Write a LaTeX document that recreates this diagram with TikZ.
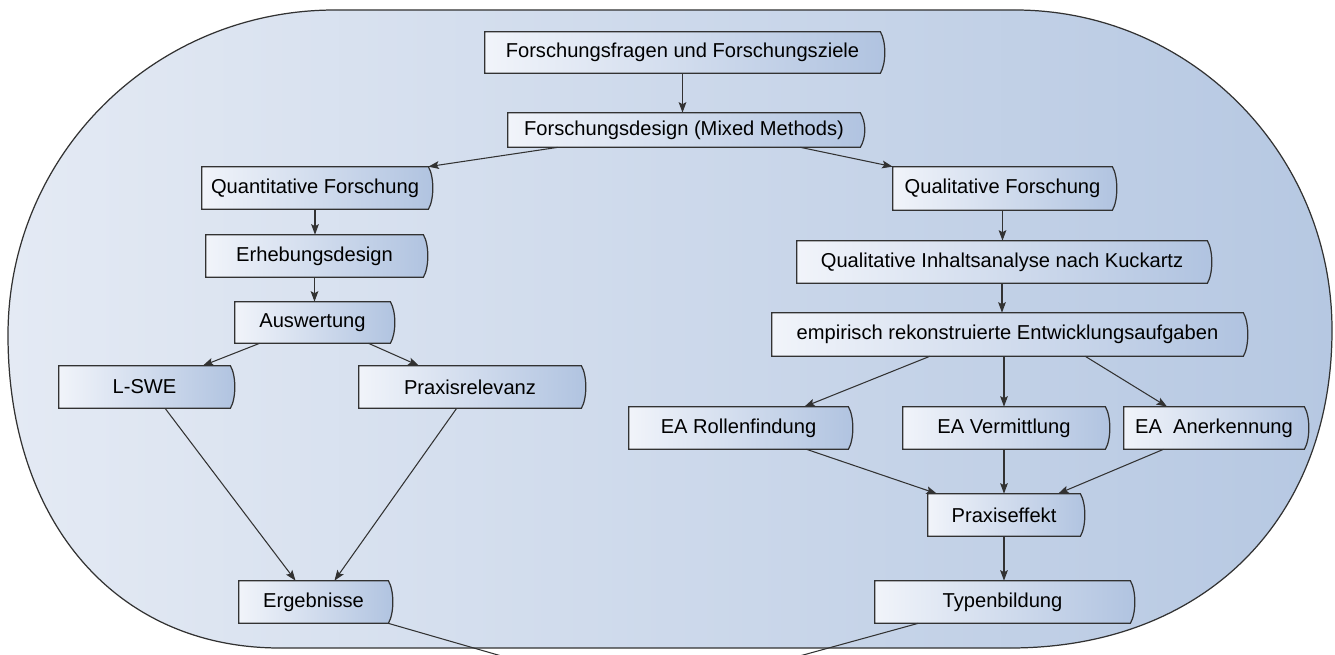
\documentclass[tikz,border=0pt]{standalone}
\usepackage{fontspec}
\setmainfont{Liberation Sans}
\usetikzlibrary{arrows.meta,calc,backgrounds}
\definecolor{fieldlight}{RGB}{228,234,244}
\definecolor{fielddark}{RGB}{182,200,226}
\definecolor{boxlight}{RGB}{241,244,250}
\definecolor{boxdark}{RGB}{176,195,224}
\definecolor{edge}{RGB}{50,50,50}
\begin{document}
\begin{tikzpicture}[x=0.02cm,y=-0.02cm,
  stage/.style={inner sep=0pt, font=\fontsize{11.45}{13}\selectfont, text=black},
  stageshape/.style={draw=edge, line width=0.7pt, left color=boxlight, right color=boxdark},
  link/.style={draw=edge, line width=0.6pt, -{Stealth[length=6pt,width=4.4pt,inset=1.2pt]}},
  plainlink/.style={draw=edge, line width=0.6pt}
]
\useasboundingbox (0,0) rectangle (1335,655);

% process steps
\node[stage, minimum width=7.90cm, minimum height=0.82cm] (fragen)  at (682.5,52.5) {Forschungsfragen und Forschungsziele};
\node[stage, minimum width=7.04cm, minimum height=0.68cm] (design)  at (684,130)    {Forschungsdesign (Mixed Methods)};
\node[stage, minimum width=4.52cm, minimum height=0.84cm] (quan)    at (315,188)    {Quantitative Forschung};
\node[stage, minimum width=4.34cm, minimum height=0.84cm] (erheb)   at (314.5,256)  {Erhebungsdesign};
\node[stage, minimum width=3.10cm, minimum height=0.82cm] (ausw)    at (312.5,322.5){Auswertung};
\node[stage, minimum width=3.42cm, minimum height=0.84cm] (lswe)    at (144.5,387)  {L-SWE};
\node[stage, minimum width=4.44cm, minimum height=0.84cm] (praxrel) at (470,387)    {Praxisrelevanz};
\node[stage, minimum width=2.98cm, minimum height=0.84cm] (ergeb)   at (313.5,602)  {Ergebnisse};
\node[stage, minimum width=4.38cm, minimum height=0.86cm] (qual)    at (1002.5,188.5){Qualitative Forschung};
\node[stage, minimum width=8.20cm, minimum height=0.84cm] (inhalt)  at (1002,262)   {Qualitative Inhaltsanalyse nach Kuckartz};
\node[stage, minimum width=9.42cm, minimum height=0.86cm] (empir)   at (1007.5,334.5){empirisch rekonstruierte Entwicklungsaufgaben};
\node[stage, minimum width=4.38cm, minimum height=0.84cm] (rollen)  at (738.5,428)  {EA Rollenfindung};
\node[stage, minimum width=4.04cm, minimum height=0.84cm] (vermitt) at (1004,428)   {EA Vermittlung};
\node[stage, minimum width=3.60cm, minimum height=0.84cm] (anerk)   at (1214,428)   {EA\ \ Anerkennung};
\node[stage, minimum width=3.04cm, minimum height=0.84cm] (praxeff) at (1004,515)   {Praxiseffekt};
\node[stage, minimum width=5.10cm, minimum height=0.84cm] (typen)   at (1002.5,602) {Typenbildung};

% rounded field and step outlines behind the texts
\begin{scope}[on background layer]
  \path[draw=edge, line width=0.7pt, left color=fieldlight, right color=fielddark]
    (1015,10) -- (335,10)
    .. controls (154,10) and (8,155) .. (8,335)
    .. controls (8,523) and (117,648) .. (280,648)
    -- (1010,648)
    .. controls (1203,648) and (1332,521) .. (1332,330)
    .. controls (1332,153) and (1190,10) .. (1015,10) -- cycle;
  \foreach \n in {fragen,design,quan,erheb,ausw,lswe,praxrel,ergeb,qual,inhalt,empir,rollen,vermitt,anerk,praxeff,typen}
    \path[stageshape] (\n.north west) -- (\n.north east)
      .. controls +(6,10) and +(6,-10) .. (\n.south east)
      -- (\n.south west) -- cycle;
\end{scope}

% connectors
\draw[link] (fragen.south) -- (fragen.south |- design.north);
\draw[link] ($(design.south west)!0.142!(design.south east)$) -- (quan.north east);
\draw[link] ($(design.south west)!0.83!(design.south east)$) -- (qual.north west);

\draw[link] (quan.south) -- (quan.south |- erheb.north);
\draw[link] (erheb.south) -- (erheb.south |- ausw.north);
\draw[link] ($(ausw.south west)!0.16!(ausw.south east)$) -- ($(lswe.north west)!0.84!(lswe.north east)$);
\draw[link] ($(ausw.south west)!0.86!(ausw.south east)$) -- ($(praxrel.north west)!0.27!(praxrel.north east)$);
\draw[link] ($(lswe.south west)!0.62!(lswe.south east)$) -- ($(ergeb.north west)!0.38!(ergeb.north east)$);
\draw[link] ($(praxrel.south west)!0.44!(praxrel.south east)$) -- ($(ergeb.north west)!0.64!(ergeb.north east)$);

\draw[link] (qual.south) -- (qual.south |- inhalt.north);
\draw[link] (inhalt.south) -- (inhalt.south |- empir.north);
\draw[link] ($(empir.south west)!0.335!(empir.south east)$) -- ($(rollen.north west)!0.80!(rollen.north east)$);
\draw[link] (vermitt.north |- empir.south) -- (vermitt.north);
\draw[link] ($(empir.south west)!0.665!(empir.south east)$) -- ($(anerk.north west)!0.24!(anerk.north east)$);
\draw[link] ($(rollen.south west)!0.81!(rollen.south east)$) -- ($(praxeff.north west)!0.06!(praxeff.north east)$);
\draw[link] (vermitt.south) -- (vermitt.south |- praxeff.north);
\draw[link] ($(anerk.south west)!0.22!(anerk.south east)$) -- ($(praxeff.north west)!0.855!(praxeff.north east)$);
\draw[link] (praxeff.south) -- (praxeff.south |- typen.north);

% both branches run together below the field
\coordinate (merge) at (647,698);
\begin{scope}
  \clip (0,0) rectangle (1335,655);
  \draw[plainlink] (ergeb.south east) -- (merge);
  \draw[plainlink] ($(typen.south west)!0.17!(typen.south east)$) -- (merge);
\end{scope}
\end{tikzpicture}
\end{document}
